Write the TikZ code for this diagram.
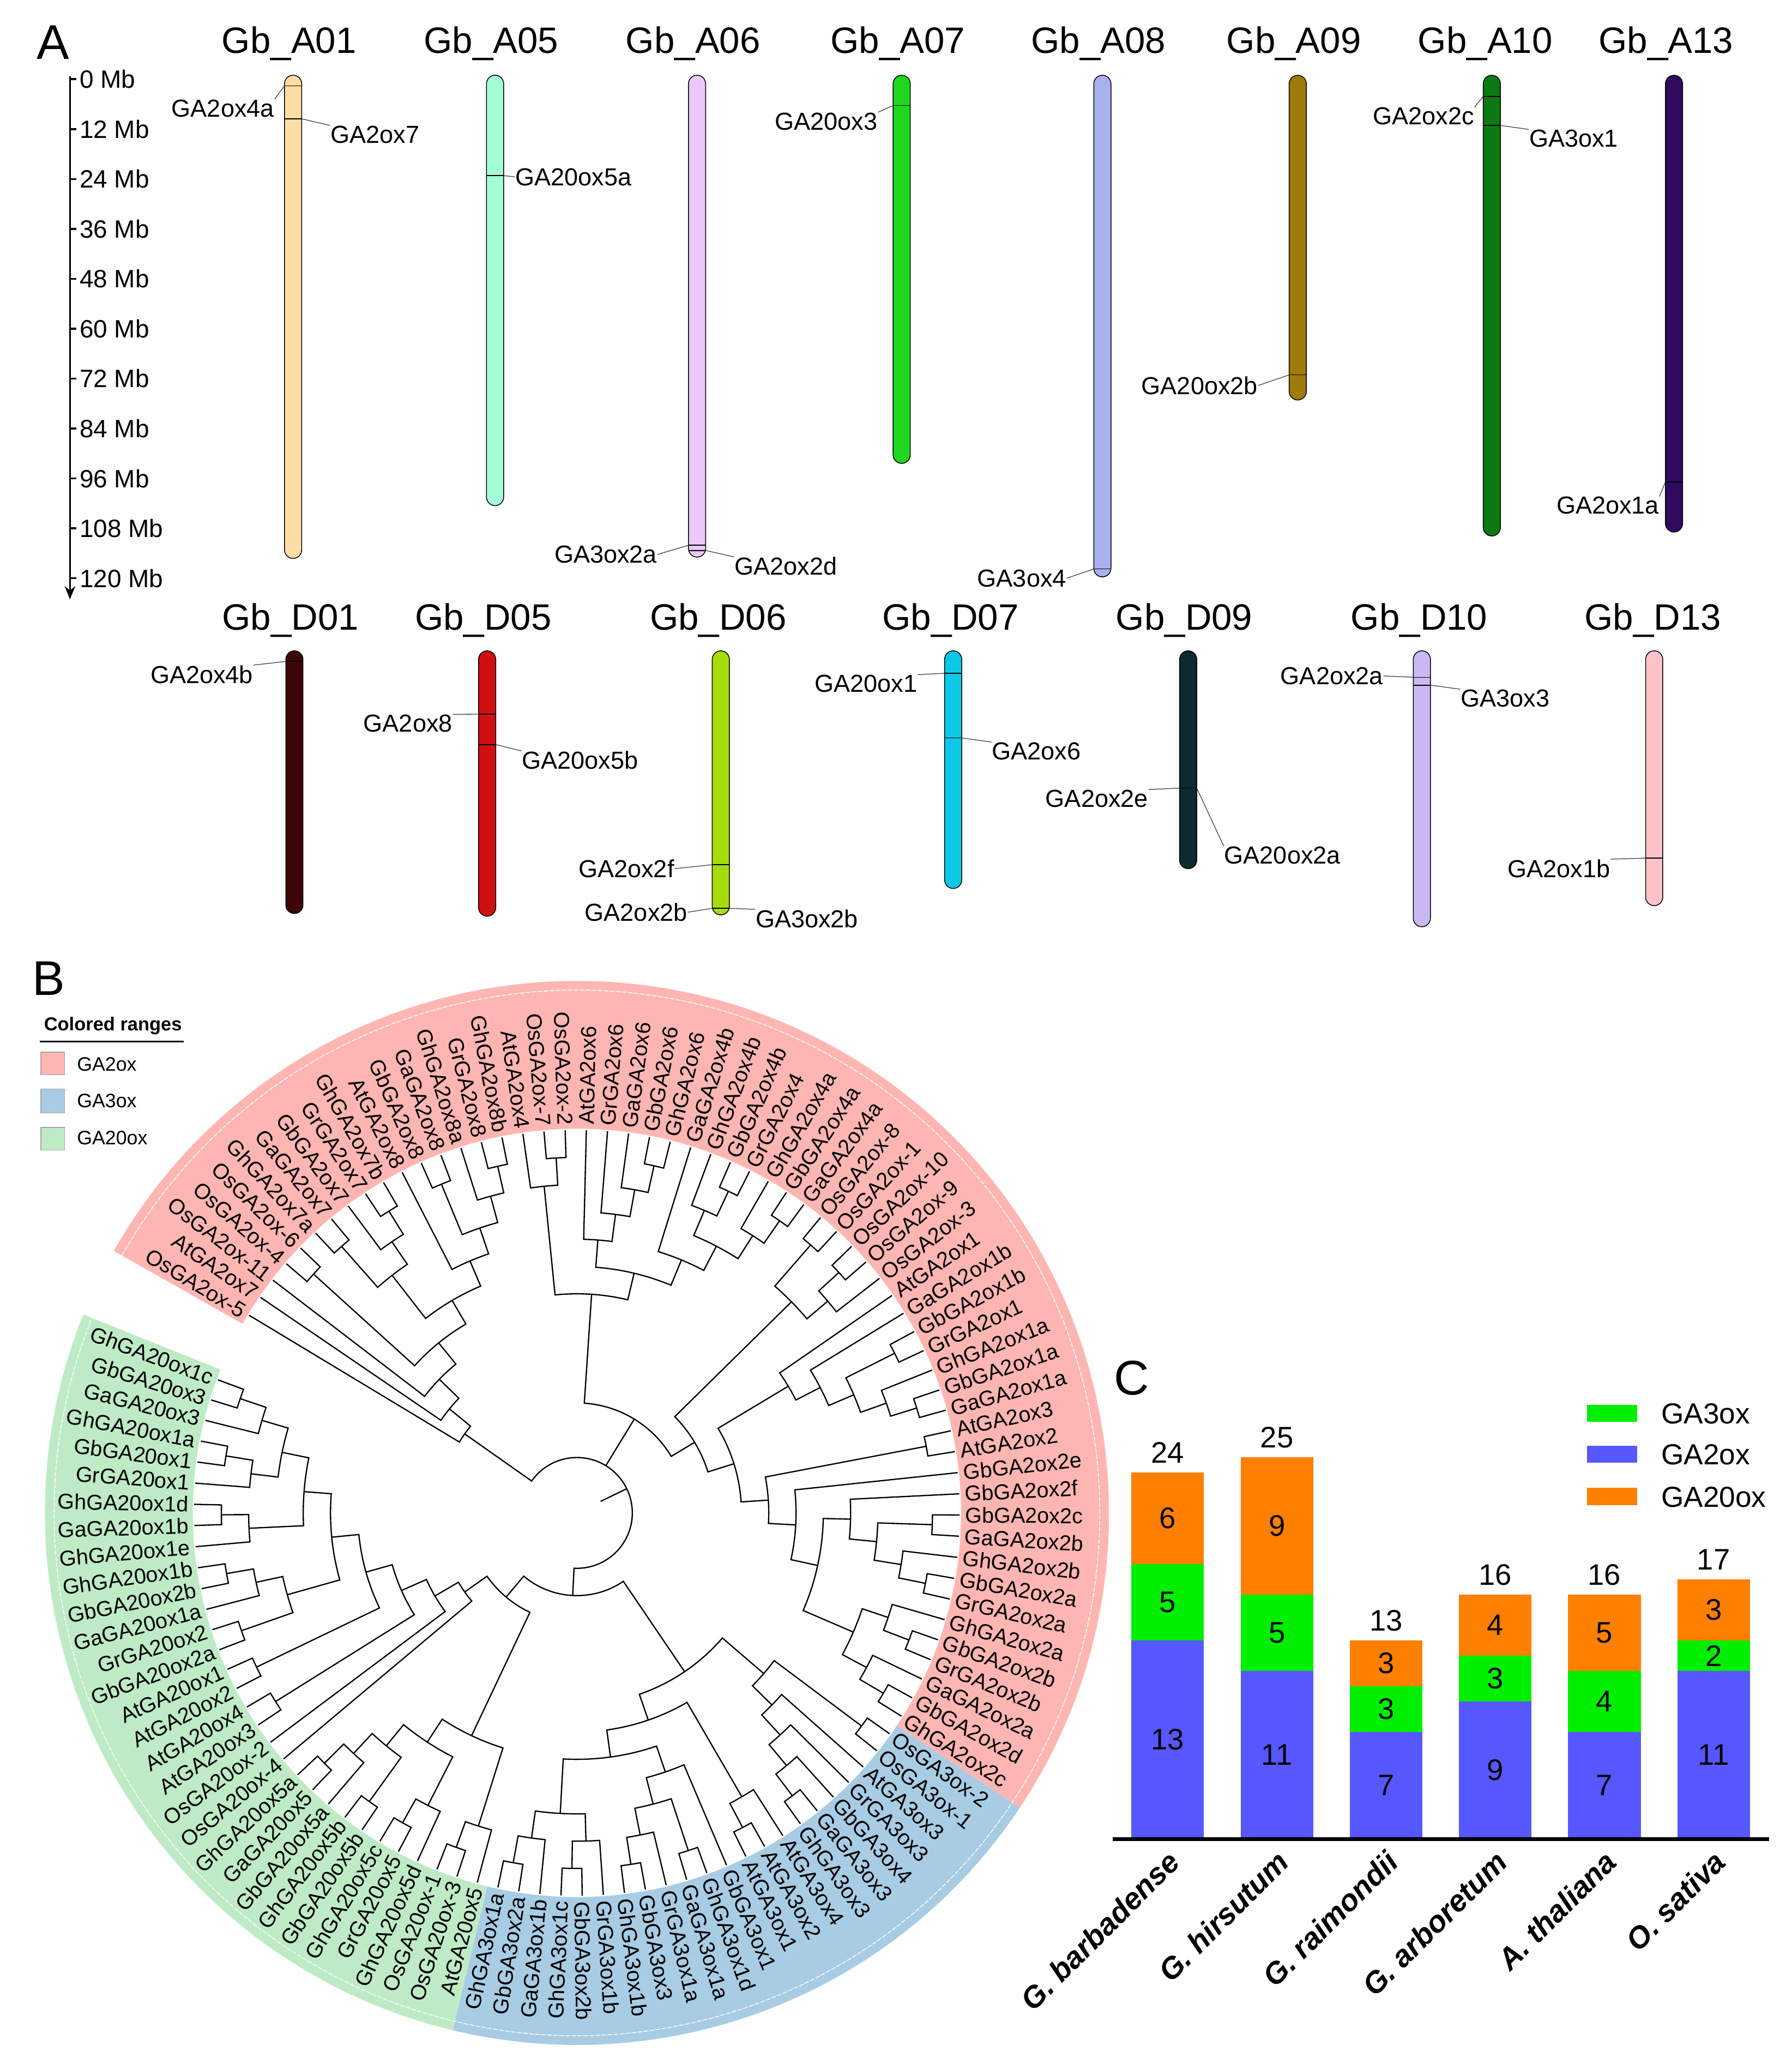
\documentclass[tikz,border=0pt]{standalone}
\usepackage{fontspec}
\setmainfont{Liberation Sans}
\usetikzlibrary{arrows.meta}

\definecolor{rngpink}{RGB}{255,182,178}
\definecolor{rngblue}{RGB}{168,204,228}
\definecolor{rnggreen}{RGB}{190,235,198}
\definecolor{barblue}{RGB}{87,87,255}
\definecolor{bargreen}{RGB}{0,238,0}
\definecolor{barorange}{RGB}{255,128,0}
\definecolor{chrA01}{RGB}{255,222,166}
\definecolor{chrA05}{RGB}{163,255,214}
\definecolor{chrA06}{RGB}{235,200,248}
\definecolor{chrA07}{RGB}{30,215,30}
\definecolor{chrA08}{RGB}{168,176,240}
\definecolor{chrA09}{RGB}{160,122,10}
\definecolor{chrA10}{RGB}{12,122,18}
\definecolor{chrA13}{RGB}{46,11,92}
\definecolor{chrD01}{RGB}{61,5,8}
\definecolor{chrD05}{RGB}{208,16,16}
\definecolor{chrD06}{RGB}{165,220,12}
\definecolor{chrD07}{RGB}{12,200,230}
\definecolor{chrD09}{RGB}{13,42,48}
\definecolor{chrD10}{RGB}{201,185,242}
\definecolor{chrD13}{RGB}{255,194,202}

\tikzset{
  panel/.style={font=\fontsize{21}{24}\selectfont, inner sep=0pt},
  chname/.style={font=\fontsize{15.8}{18}\selectfont, inner sep=0pt},
  axlab/.style={font=\fontsize{10.8}{12}\selectfont, inner sep=0pt},
  gene/.style={font=\fontsize{10.6}{12}\selectfont, inner sep=0pt},
  chrom/.style={draw=black, line width=0.35pt, rounded corners=1.3mm},
  gmark/.style={black, line width=0.35pt},
  lead/.style={black!75, line width=0.3pt},
  branch/.style={black, line width=0.55pt},
  leaflab/.style={font=\fontsize{9.3}{10}\selectfont, inner sep=0pt},
  leghead/.style={font=\bfseries\fontsize{8.1}{9}\selectfont, inner sep=0pt},
  legtext/.style={font=\fontsize{8.4}{9}\selectfont, inner sep=0pt},
  legbox/.style={draw=black!35, line width=0.3pt},
  barnum/.style={font=\fontsize{12.8}{14}\selectfont, inner sep=0pt},
  barleg/.style={font=\fontsize{12.5}{14}\selectfont, inner sep=0pt},
  splab/.style={font=\bfseries\itshape\fontsize{13}{15}\selectfont, inner sep=0pt},
}

\newcommand\tipR{290}
\newcommand\labR{294}
\newcommand\stepR{20.67}

% one tip of the tree: index, label
\newcommand\leaf[2]{%
  \pgfmathsetmacro\lfang{150.5-(#1-0.5)*3.175}%
  \expandafter\xdef\csname phyA#1\endcsname{\lfang}%
  \expandafter\xdef\csname phyR#1\endcsname{\tipR}%
  \expandafter\xdef\csname phyH#1\endcsname{0}%
  \pgfmathtruncatemacro\lfside{cos(\lfang)>=0}%
  \ifnum\lfside=1
    \node[leaflab, rotate=\lfang, anchor=west] (t#1) at (\lfang:\labR) {#2};%
  \else
    \pgfmathsetmacro\lfrot{\lfang+180}%
    \node[leaflab, rotate=\lfrot, anchor=east] (t#1) at (\lfang:\labR) {#2};%
  \fi}

% inner node: name, first child, second child
\newcommand\clade[3]{%
  \edef\cdA{\csname phyA#2\endcsname}\edef\cdB{\csname phyA#3\endcsname}%
  \edef\cdRA{\csname phyR#2\endcsname}\edef\cdRB{\csname phyR#3\endcsname}%
  \edef\cdHA{\csname phyH#2\endcsname}\edef\cdHB{\csname phyH#3\endcsname}%
  \pgfmathtruncatemacro\cdH{max(\cdHA,\cdHB)+1}%
  \pgfmathsetmacro\cdR{\tipR-\cdH*\stepR}%
  \pgfmathsetmacro\cdM{(\cdA+\cdB)/2}%
  \draw[branch] (\cdA:\cdRA) -- (\cdA:\cdR) arc[start angle=\cdA, end angle=\cdB, radius=\cdR] -- (\cdB:\cdRB);%
  \coordinate (#1) at (\cdM:\cdR);%
  \expandafter\xdef\csname phyA#1\endcsname{\cdM}%
  \expandafter\xdef\csname phyR#1\endcsname{\cdR}%
  \expandafter\xdef\csname phyH#1\endcsname{\cdH}}

% root with three children and its stub
\newcommand\rootclade[3]{%
  \edef\cdA{\csname phyA#1\endcsname}\edef\cdB{\csname phyA#2\endcsname}\edef\cdC{\csname phyA#3\endcsname}%
  \edef\cdRA{\csname phyR#1\endcsname}\edef\cdRB{\csname phyR#2\endcsname}\edef\cdRC{\csname phyR#3\endcsname}%
  \edef\cdHA{\csname phyH#1\endcsname}\edef\cdHB{\csname phyH#2\endcsname}\edef\cdHC{\csname phyH#3\endcsname}%
  \pgfmathtruncatemacro\cdH{max(\cdHA,\cdHB,\cdHC)+1}%
  \pgfmathsetmacro\cdR{\tipR-\cdH*\stepR}%
  \pgfmathsetmacro\cdM{(\cdA+\cdC)/2}%
  \pgfmathsetmacro\cdS{\cdR-22}%
  \draw[branch] (\cdA:\cdRA) -- (\cdA:\cdR) arc[start angle=\cdA, end angle=\cdC, radius=\cdR] -- (\cdC:\cdRC);%
  \draw[branch] (\cdB:\cdRB) -- (\cdB:\cdR);%
  \coordinate (root) at (\cdM:\cdR);%
  \draw[branch] (\cdM:\cdS) -- (root);}

\begin{document}
\begin{tikzpicture}[x=0.2mm, y=-0.2mm]
\useasboundingbox (0,0) rectangle (1357,1568);
\fill[white] (0,0) rectangle (1357,1568);

% A
\node[panel] (la) at (40,32) {A};
\draw[line width=0.3mm, -{Stealth[length=2mm,width=1.6mm]}] (53,58) to (53,454);
\foreach \k in {0,...,10}{
  \pgfmathtruncatemacro\mb{12*\k}
  \draw[line width=0.3mm] (53,60+37.8*\k) to (58,60+37.8*\k);
  \node[axlab, anchor=west] (ax\k) at (60,60+37.8*\k) {\mb\ Mb};
}

\node[chname] (nA01) at (219,33) {Gb\_A01};
\node[chname] (nA05) at (372,33) {Gb\_A05};
\node[chname] (nA06) at (525,33) {Gb\_A06};
\node[chname] (nA07) at (680,33) {Gb\_A07};
\node[chname] (nA08) at (832,33) {Gb\_A08};
\node[chname] (nA09) at (980,33) {Gb\_A09};
\node[chname] (nA10) at (1125,33) {Gb\_A10};
\node[chname] (nA13) at (1262,33) {Gb\_A13};

\draw[chrom, fill=chrA01] (215.5,57) rectangle (228.5,423);
\draw[chrom, fill=chrA05] (368.5,57) rectangle (381.5,383);
\draw[chrom, fill=chrA06] (521.5,57) rectangle (534.5,422);
\draw[chrom, fill=chrA07] (676.5,57) rectangle (689.5,351);
\draw[chrom, fill=chrA08] (828.5,57) rectangle (841.5,437);
\draw[chrom, fill=chrA09] (976.5,57) rectangle (989.5,303);
\draw[chrom, fill=chrA10] (1123.5,57) rectangle (1136.5,406);
\draw[chrom, fill=chrA13] (1261.5,57) rectangle (1274.5,403);

\draw[gmark] (215.5,65) to (228.5,65);
\draw[gmark] (215.5,90) to (228.5,90);
\draw[gmark] (368.5,133) to (381.5,133);
\draw[gmark] (521.5,413) to (534.5,413);
\draw[gmark] (521.5,417) to (534.5,417);
\draw[gmark] (676.5,80) to (689.5,80);
\draw[gmark] (828.5,431) to (841.5,431);
\draw[gmark] (976.5,284) to (989.5,284);
\draw[gmark] (1123.5,73) to (1136.5,73);
\draw[gmark] (1123.5,95) to (1136.5,95);
\draw[gmark] (1261.5,365) to (1274.5,365);

\node[gene, anchor=east] (g4a) at (208,82) {GA2ox4a};
\node[gene, anchor=west] (g7) at (250,102) {GA2ox7};
\node[gene, anchor=west] (g205a) at (390,134) {GA20ox5a};
\node[gene, anchor=east] (g32a) at (498,420) {GA3ox2a};
\node[gene, anchor=west] (g2d) at (556,429) {GA2ox2d};
\node[gene, anchor=east] (g203) at (665,92) {GA20ox3};
\node[gene, anchor=east] (g34) at (808,438) {GA3ox4};
\node[gene, anchor=east] (g202b) at (953,292) {GA20ox2b};
\node[gene, anchor=east] (g2c) at (1117,88) {GA2ox2c};
\node[gene, anchor=west] (g31) at (1158,105) {GA3ox1};
\node[gene, anchor=east] (g1a) at (1257,383) {GA2ox1a};

\coordinate (k4a) at (215.5,65);
\coordinate (k7) at (228.5,90);
\coordinate (k205a) at (381.5,133);
\coordinate (k32a) at (521.5,413);
\coordinate (k2d) at (534.5,417);
\coordinate (k203) at (676.5,80);
\coordinate (k34) at (828.5,431);
\coordinate (k202b) at (976.5,284);
\coordinate (k2c) at (1123.5,73);
\coordinate (k31) at (1136.5,95);
\coordinate (k1a) at (1261.5,365);

\draw[lead] (g4a.north east) to (k4a);
\draw[lead] (k7) to (g7.north west);
\draw[lead] (k205a) to (g205a.west);
\draw[lead] (g32a.east) to (k32a);
\draw[lead] (k2d) to (g2d.north west);
\draw[lead] (g203.north east) to (k203);
\draw[lead] (g34.east) to (k34);
\draw[lead] (g202b.east) to (k202b);
\draw[lead] (g2c.north east) to (k2c);
\draw[lead] (k31) to (g31.north west);
\draw[lead] (g1a.north east) to (k1a);

\node[chname] (nD01) at (220,470) {Gb\_D01};
\node[chname] (nD05) at (366,470) {Gb\_D05};
\node[chname] (nD06) at (544,470) {Gb\_D06};
\node[chname] (nD07) at (720,470) {Gb\_D07};
\node[chname] (nD09) at (897,470) {Gb\_D09};
\node[chname] (nD10) at (1075,470) {Gb\_D10};
\node[chname] (nD13) at (1252,470) {Gb\_D13};

\draw[chrom, fill=chrD01] (216.5,493) rectangle (229.5,692);
\draw[chrom, fill=chrD05] (362.5,493) rectangle (375.5,694);
\draw[chrom, fill=chrD06] (539.5,493) rectangle (552.5,693);
\draw[chrom, fill=chrD07] (715.5,493) rectangle (728.5,673);
\draw[chrom, fill=chrD09] (893.5,493) rectangle (906.5,658);
\draw[chrom, fill=chrD10] (1070.5,493) rectangle (1083.5,702);
\draw[chrom, fill=chrD13] (1246.5,493) rectangle (1259.5,686);

\draw[gmark] (216.5,501) to (229.5,501);
\draw[gmark] (362.5,541) to (375.5,541);
\draw[gmark] (362.5,564) to (375.5,564);
\draw[gmark] (539.5,655) to (552.5,655);
\draw[gmark] (539.5,688) to (552.5,688);
\draw[gmark] (715.5,510) to (728.5,510);
\draw[gmark] (715.5,559) to (728.5,559);
\draw[gmark] (893.5,597) to (906.5,597);
\draw[gmark] (1070.5,513) to (1083.5,513);
\draw[gmark] (1070.5,519) to (1083.5,519);
\draw[gmark] (1246.5,650) to (1259.5,650);

\node[gene, anchor=east] (g4b) at (192,511) {GA2ox4b};
\node[gene, anchor=east] (g8) at (343,548) {GA2ox8};
\node[gene, anchor=west] (g205b) at (395,576) {GA20ox5b};
\node[gene, anchor=east] (g2f) at (511,658) {GA2ox2f};
\node[gene, anchor=east] (g2b) at (521,691) {GA2ox2b};
\node[gene, anchor=west] (g32b) at (572,696) {GA3ox2b};
\node[gene, anchor=east] (g201) at (695,518) {GA20ox1};
\node[gene, anchor=west] (g6) at (751,569) {GA2ox6};
\node[gene, anchor=east] (g2e) at (870,605) {GA2ox2e};
\node[gene, anchor=west] (g202a) at (927,648) {GA20ox2a};
\node[gene, anchor=east] (g2a) at (1048,512) {GA2ox2a};
\node[gene, anchor=west] (g33) at (1106,529) {GA3ox3};
\node[gene, anchor=east] (g1b) at (1220,658) {GA2ox1b};

\coordinate (k4b) at (216.5,501);
\coordinate (k8) at (362.5,541);
\coordinate (k205b) at (375.5,564);
\coordinate (k2f) at (539.5,655);
\coordinate (k2b) at (539.5,688);
\coordinate (k32b) at (552.5,688);
\coordinate (k201) at (715.5,510);
\coordinate (k6) at (728.5,559);
\coordinate (k2e) at (893.5,597);
\coordinate (k202a) at (906.5,597);
\coordinate (k2a) at (1070.5,513);
\coordinate (k33) at (1083.5,519);
\coordinate (k1b) at (1246.5,650);

\draw[lead] (g4b.north east) to (k4b);
\draw[lead] (g8.north east) to (k8);
\draw[lead] (k205b) to (g205b.north west);
\draw[lead] (g2f.east) to (k2f);
\draw[lead] (g2b.east) to (k2b);
\draw[lead] (k32b) to (g32b.north west);
\draw[lead] (g201.north east) to (k201);
\draw[lead] (k6) to (g6.north west);
\draw[lead] (g2e.north east) to (k2e);
\draw[lead] (k202a) to (g202a.north west);
\draw[lead] (g2a.east) to (k2a);
\draw[lead] (k33) to (g33.north west);
\draw[lead] (g1b.north east) to (k1b);

% B
\node[panel] (lb) at (37,741) {B};
\node[leghead, anchor=west] (lgh) at (33,777) {Colored ranges};
\draw[line width=0.25mm] (30,789) to (139,789);
\draw[legbox, fill=rngpink] (31,797) rectangle (49,814);
\node[legtext, anchor=west] (lgp) at (58,806) {GA2ox};
\draw[legbox, fill=rngblue] (31,825) rectangle (49,843);
\node[legtext, anchor=west] (lgb) at (58,834) {GA3ox};
\draw[legbox, fill=rnggreen] (31,854) rectangle (49,871);
\node[legtext, anchor=west] (lgg) at (58,862) {GA20ox};

\begin{scope}[shift={(437,1146)}, y=0.2mm]
\fill[rngpink] (150.5:291) arc[start angle=150.5, end angle=-33.65, radius=291] -- (-33.65:403) arc[start angle=-33.65, end angle=150.5, radius=403] -- cycle;
\fill[rngblue] (-33.65:291) arc[start angle=-33.65, end angle=-103.5, radius=291] -- (-103.5:403) arc[start angle=-103.5, end angle=-33.65, radius=403] -- cycle;
\fill[rnggreen] (-103.5:291) arc[start angle=-103.5, end angle=-201.9, radius=291] -- (-201.9:403) arc[start angle=-201.9, end angle=-103.5, radius=403] -- cycle;
\draw[white, line width=0.35pt, dash pattern=on 2pt off 0.6pt] (150.5:396) arc[start angle=150.5, end angle=-201.9, radius=396];

\leaf{1}{OsGA2ox-5}
\leaf{2}{AtGA2ox7}
\leaf{3}{OsGA2ox-11}
\leaf{4}{OsGA2ox-4}
\leaf{5}{OsGA2ox-6}
\leaf{6}{GhGA2ox7a}
\leaf{7}{GaGA2ox7}
\leaf{8}{GbGA2ox7}
\leaf{9}{GrGA2ox7}
\leaf{10}{GhGA2ox7b}
\leaf{11}{AtGA2ox8}
\leaf{12}{GbGA2ox8}
\leaf{13}{GaGA2ox8}
\leaf{14}{GhGA2ox8a}
\leaf{15}{GrGA2ox8}
\leaf{16}{GhGA2ox8b}
\leaf{17}{AtGA2ox4}
\leaf{18}{OsGA2ox-7}
\leaf{19}{OsGA2ox-2}
\leaf{20}{AtGA2ox6}
\leaf{21}{GrGA2ox6}
\leaf{22}{GaGA2ox6}
\leaf{23}{GbGA2ox6}
\leaf{24}{GhGA2ox6}
\leaf{25}{GaGA2ox4b}
\leaf{26}{GhGA2ox4b}
\leaf{27}{GbGA2ox4b}
\leaf{28}{GrGA2ox4}
\leaf{29}{GhGA2ox4a}
\leaf{30}{GbGA2ox4a}
\leaf{31}{GaGA2ox4a}
\leaf{32}{OsGA2ox-8}
\leaf{33}{OsGA2ox-1}
\leaf{34}{OsGA2ox-10}
\leaf{35}{OsGA2ox-9}
\leaf{36}{OsGA2ox-3}
\leaf{37}{AtGA2ox1}
\leaf{38}{GaGA2ox1b}
\leaf{39}{GbGA2ox1b}
\leaf{40}{GrGA2ox1}
\leaf{41}{GhGA2ox1a}
\leaf{42}{GbGA2ox1a}
\leaf{43}{GaGA2ox1a}
\leaf{44}{AtGA2ox3}
\leaf{45}{AtGA2ox2}
\leaf{46}{GbGA2ox2e}
\leaf{47}{GbGA2ox2f}
\leaf{48}{GbGA2ox2c}
\leaf{49}{GaGA2ox2b}
\leaf{50}{GhGA2ox2b}
\leaf{51}{GbGA2ox2a}
\leaf{52}{GrGA2ox2a}
\leaf{53}{GhGA2ox2a}
\leaf{54}{GbGA2ox2b}
\leaf{55}{GrGA2ox2b}
\leaf{56}{GaGA2ox2a}
\leaf{57}{GbGA2ox2d}
\leaf{58}{GhGA2ox2c}
\leaf{59}{OsGA3ox-2}
\leaf{60}{OsGA3ox-1}
\leaf{61}{AtGA3ox3}
\leaf{62}{GrGA3ox3}
\leaf{63}{GbGA3ox4}
\leaf{64}{GaGA3ox3}
\leaf{65}{GhGA3ox3}
\leaf{66}{AtGA3ox4}
\leaf{67}{AtGA3ox2}
\leaf{68}{AtGA3ox1}
\leaf{69}{GbGA3ox1}
\leaf{70}{GhGA3ox1d}
\leaf{71}{GaGA3ox1a}
\leaf{72}{GrGA3ox1a}
\leaf{73}{GbGA3ox3}
\leaf{74}{GhGA3ox1b}
\leaf{75}{GrGA3ox1b}
\leaf{76}{GbGA3ox2b}
\leaf{77}{GhGA3ox1c}
\leaf{78}{GaGA3ox1b}
\leaf{79}{GbGA3ox2a}
\leaf{80}{GhGA3ox1a}
\leaf{81}{AtGA20ox5}
\leaf{82}{OsGA20ox-3}
\leaf{83}{OsGA20ox-1}
\leaf{84}{GhGA20ox5d}
\leaf{85}{GrGA20ox5}
\leaf{86}{GhGA20ox5c}
\leaf{87}{GbGA20ox5b}
\leaf{88}{GhGA20ox5b}
\leaf{89}{GbGA20ox5a}
\leaf{90}{GaGA20ox5}
\leaf{91}{GhGA20ox5a}
\leaf{92}{OsGA20ox-4}
\leaf{93}{OsGA20ox-2}
\leaf{94}{AtGA20ox3}
\leaf{95}{AtGA20ox4}
\leaf{96}{AtGA20ox2}
\leaf{97}{AtGA20ox1}
\leaf{98}{GbGA20ox2a}
\leaf{99}{GrGA20ox2}
\leaf{100}{GaGA20ox1a}
\leaf{101}{GbGA20ox2b}
\leaf{102}{GhGA20ox1b}
\leaf{103}{GhGA20ox1e}
\leaf{104}{GaGA20ox1b}
\leaf{105}{GhGA20ox1d}
\leaf{106}{GrGA20ox1}
\leaf{107}{GbGA20ox1}
\leaf{108}{GhGA20ox1a}
\leaf{109}{GaGA20ox3}
\leaf{110}{GbGA20ox3}
\leaf{111}{GhGA20ox1c}

% GA2ox, first group
\clade{a1}{15}{16}
\clade{a2}{14}{a1}
\clade{a3}{12}{13}
\clade{a4}{a3}{a2}
\clade{a5}{11}{a4}
\clade{a6}{9}{10}
\clade{a7}{8}{a6}
\clade{a8}{6}{7}
\clade{a9}{a8}{a7}
\clade{a10}{a9}{a5}
\clade{a11}{4}{5}
\clade{a12}{a11}{a10}
\clade{a13}{3}{a12}
\clade{a14}{2}{a13}
\clade{a15}{1}{a14}
% GA2ox, second group
\clade{b1}{18}{19}
\clade{b2}{17}{b1}
\clade{b3}{23}{24}
\clade{b4}{22}{b3}
\clade{b5}{21}{b4}
\clade{b6}{20}{b5}
\clade{b7}{27}{28}
\clade{b8}{26}{b7}
\clade{b9}{30}{31}
\clade{b10}{29}{b9}
\clade{b11}{b8}{b10}
\clade{b12}{25}{b11}
\clade{b13}{b6}{b12}
\clade{b14}{b2}{b13}
\clade{b15}{32}{33}
\clade{b16}{34}{35}
\clade{b17}{b16}{36}
\clade{b18}{b15}{b17}
\clade{b19}{42}{43}
\clade{b20}{41}{b19}
\clade{b21}{39}{40}
\clade{b22}{b21}{b20}
\clade{b23}{38}{b22}
\clade{b24}{37}{b23}
\clade{b25}{44}{45}
\clade{b26}{51}{52}
\clade{b27}{50}{b26}
\clade{b28}{48}{49}
\clade{b29}{b28}{b27}
\clade{b30}{47}{b29}
\clade{b31}{54}{55}
\clade{b32}{53}{b31}
\clade{b33}{57}{58}
\clade{b34}{56}{b33}
\clade{b35}{b32}{b34}
\clade{b36}{b30}{b35}
\clade{b37}{46}{b36}
\clade{b38}{b25}{b37}
\clade{b39}{b24}{b38}
\clade{b40}{b18}{b39}
\clade{b41}{b14}{b40}
% GA3ox
\clade{c1}{59}{60}
\clade{c2}{64}{65}
\clade{c3}{63}{c2}
\clade{c4}{62}{c3}
\clade{c5}{61}{c4}
\clade{c6}{c1}{c5}
\clade{c7}{67}{68}
\clade{c8}{66}{c7}
\clade{c9}{73}{74}
\clade{c10}{72}{c9}
\clade{c11}{70}{71}
\clade{c12}{c11}{c10}
\clade{c13}{69}{c12}
\clade{c14}{76}{77}
\clade{c15}{75}{c14}
\clade{c16}{79}{80}
\clade{c17}{78}{c16}
\clade{c18}{c15}{c17}
\clade{c19}{c13}{c18}
\clade{c20}{c8}{c19}
\clade{c21}{c6}{c20}
% GA20ox
\clade{d1}{82}{83}
\clade{d2}{81}{d1}
\clade{d3}{85}{86}
\clade{d4}{84}{d3}
\clade{d5}{87}{88}
\clade{d6}{90}{91}
\clade{d7}{89}{d6}
\clade{d8}{d5}{d7}
\clade{d9}{d4}{d8}
\clade{d10}{d2}{d9}
\clade{d11}{98}{99}
\clade{d12}{101}{102}
\clade{d13}{100}{d12}
\clade{d14}{d11}{d13}
\clade{d15}{104}{105}
\clade{d16}{103}{d15}
\clade{d17}{107}{108}
\clade{d18}{106}{d17}
\clade{d19}{110}{111}
\clade{d20}{109}{d19}
\clade{d21}{d18}{d20}
\clade{d22}{d16}{d21}
\clade{d23}{d14}{d22}
\clade{d24}{96}{97}
\clade{d25}{d24}{d23}
\clade{d26}{94}{95}
\clade{d27}{d26}{d25}
\clade{d28}{93}{d27}
\clade{d29}{92}{d28}
\clade{d30}{d10}{d29}
\clade{e1}{c21}{d30}
\rootclade{a15}{b41}{e1}
\end{scope}

% C
\node[panel] (lc) at (857,1044) {C};
\foreach \sp/\nb/\ng/\no/\lo/\tot [count=\n from 0] in {G. barbadense/13/5/6/6/24, G. hirsutum/11/5/9/9/25, G. raimondii/7/3/3/3/13, G. arboretum/9/3/4/4/16, A. thaliana/7/4/5/5/16, O. sativa/11/2/4/3/17}{
  \pgfmathsetmacro\xl{857+82.7*\n}
  \pgfmathsetmacro\xc{\xl+27.5}
  \pgfmathsetmacro\yb{1393-11.57*\nb}
  \pgfmathsetmacro\yg{\yb-11.57*\ng}
  \pgfmathsetmacro\yo{\yg-11.57*\no}
  \fill[barblue] (\xl,1393) rectangle (\xl+55,\yb);
  \fill[bargreen] (\xl,\yb) rectangle (\xl+55,\yg);
  \fill[barorange] (\xl,\yg) rectangle (\xl+55,\yo);
  \node[barnum] (nb\n) at (\xc,{(1393+\yb)/2}) {\nb};
  \node[barnum] (ng\n) at (\xc,{(\yb+\yg)/2}) {\ng};
  \node[barnum] (no\n) at (\xc,{(\yg+\yo)/2}) {\lo};
  \node[barnum] (nt\n) at (\xc,\yo-15) {\tot};
  \node[splab, rotate=45, anchor=east] (sp\n) at (\xc+5,1406) {\sp};
}
\draw[line width=0.6mm] (843,1393) to (1340,1393);

\fill[bargreen] (1202,1064) rectangle (1240,1077);
\node[barleg, anchor=west] (lg3) at (1258,1071) {GA3ox};
\fill[barblue] (1202,1095) rectangle (1240,1108);
\node[barleg, anchor=west] (lg2) at (1258,1102) {GA2ox};
\fill[barorange] (1202,1127) rectangle (1240,1140);
\node[barleg, anchor=west] (lg20) at (1258,1134) {GA20ox};

\end{tikzpicture}
\end{document}
